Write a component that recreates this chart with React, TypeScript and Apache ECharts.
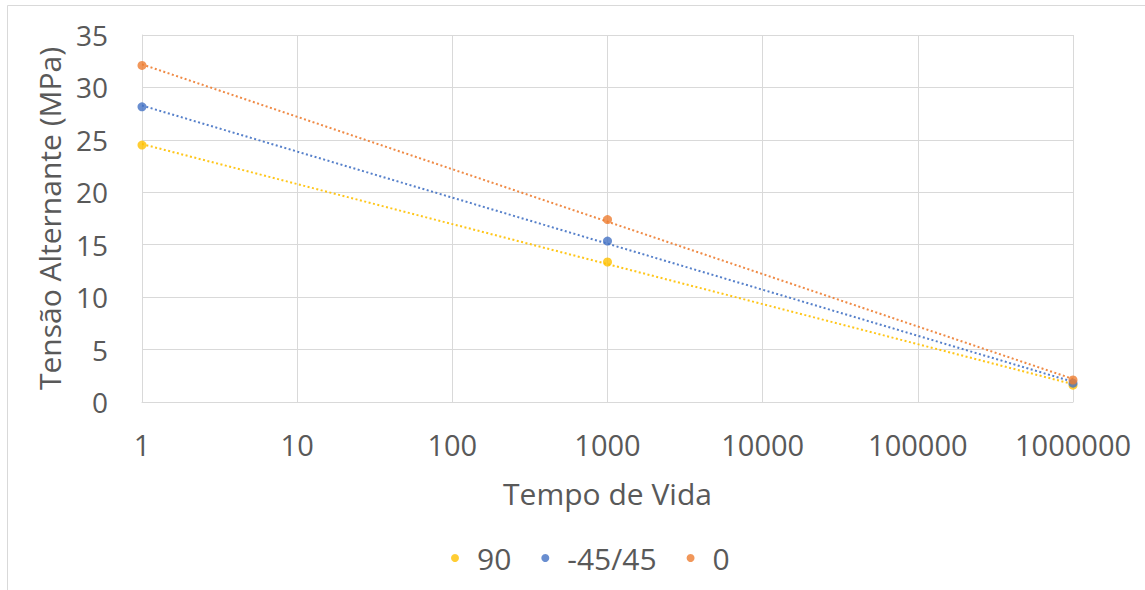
import React, { useEffect, useRef } from "react";
import * as echarts from "echarts";

const seriesNames = ["90", "-45/45", "0"];
const seriesColors = ["#FFC000", "#4472C4", "#ED7D31"];
const lifeValues = [1, 1000, 1000000];
const stress90 = [24.5, 13.35, 1.6];
const stress45 = [28.15, 15.35, 1.8];
const stress0 = [32.1, 17.4, 2.1];
const xTickLabels = ["1", "10", "100", "1000", "10000", "100000", "1000000"];

const FONT = "'Open Sans', sans-serif";
const TEXT = "#595959";

function logFit(xs: number[], ys: number[]) {
  const lx = xs.map((x) => Math.log10(x));
  const n = lx.length;
  const mx = lx.reduce((a, b) => a + b, 0) / n;
  const my = ys.reduce((a, b) => a + b, 0) / n;
  let num = 0, den = 0;
  for (let i = 0; i < n; i++) {
    num += (lx[i] - mx) * (ys[i] - my);
    den += (lx[i] - mx) * (lx[i] - mx);
  }
  const slope = num / den;
  const icpt = my - slope * mx;
  const x0 = xs[0], x1 = xs[xs.length - 1];
  return [
    [x0, icpt + slope * Math.log10(x0)],
    [x1, icpt + slope * Math.log10(x1)],
  ];
}

export default function App() {
  const ref = useRef<HTMLDivElement>(null);
  useEffect(() => {
    const chart = echarts.init(ref.current!, null, { renderer: "svg" });
    const all = [stress90, stress45, stress0];
    const series: any[] = [];
    all.forEach((ys, i) => {
      series.push({
        name: seriesNames[i] + " trend",
        type: "line",
        data: logFit(lifeValues, ys),
        showSymbol: false,
        symbol: "none",
        lineStyle: { color: seriesColors[i], width: 2, type: [2, 2.5], opacity: 0.9 },
        silent: true,
        z: 2,
      });
    });
    all.forEach((ys, i) => {
      series.push({
        name: seriesNames[i],
        type: "scatter",
        data: lifeValues.map((x, j) => [x, ys[j]]),
        symbol: "circle",
        symbolSize: 9,
        itemStyle: { color: seriesColors[i] },
        z: 3,
      });
    });
    chart.setOption({
      animation: false,
      textStyle: { fontFamily: FONT },
      graphic: [
        {
          type: "rect",
          shape: { x: 7.5, y: 5.5, width: 1300, height: 700 },
          style: { fill: "none", stroke: "#D9D9D9", lineWidth: 1 },
          silent: true,
        },
      ],
      grid: { left: 142, right: 72, top: 35, bottom: 188 },
      legend: {
        data: seriesNames,
        bottom: 12,
        left: 446,
        icon: "circle",
        itemWidth: 8,
        itemHeight: 8,
        itemGap: 30,
        textStyle: { fontFamily: FONT, fontSize: 30, color: TEXT, padding: [0, 0, 0, 13] },
      },
      xAxis: {
        type: "log",
        logBase: 10,
        min: 1,
        max: 1000000,
        name: "Tempo de Vida",
        nameLocation: "middle",
        nameGap: 76,
        nameTextStyle: { fontFamily: FONT, fontSize: 30, color: TEXT },
        axisLine: { show: true, lineStyle: { color: "#D9D9D9", width: 1 } },
        axisTick: { show: false },
        splitLine: { show: true, lineStyle: { color: "#D9D9D9", width: 1 } },
        minorSplitLine: { show: false },
        axisLabel: {
          fontFamily: FONT,
          fontSize: 29,
          color: TEXT,
          margin: 28,
          formatter: (v: number) => {
            const k = Math.round(Math.log10(v));
            return xTickLabels[k] ?? String(Math.round(v));
          },
        },
      },
      yAxis: {
        type: "value",
        min: 0,
        max: 35,
        interval: 5,
        name: "Tensão Alternante (MPa)",
        nameLocation: "middle",
        nameGap: 78,
        nameTextStyle: { fontFamily: FONT, fontSize: 30, color: TEXT },
        axisLine: { show: true, lineStyle: { color: "#D9D9D9", width: 1 } },
        axisTick: { show: false },
        splitLine: { show: true, lineStyle: { color: "#D9D9D9", width: 1 } },
        axisLabel: { fontFamily: FONT, fontSize: 28, color: TEXT, margin: 34 },
      },
      series,
    });
    return () => chart.dispose();
  }, []);
  return (
    <div
      ref={ref}
      style={{ position: "absolute", left: 0, top: 0, width: 1145, height: 590, background: "#fff" }}
    />
  );
}
